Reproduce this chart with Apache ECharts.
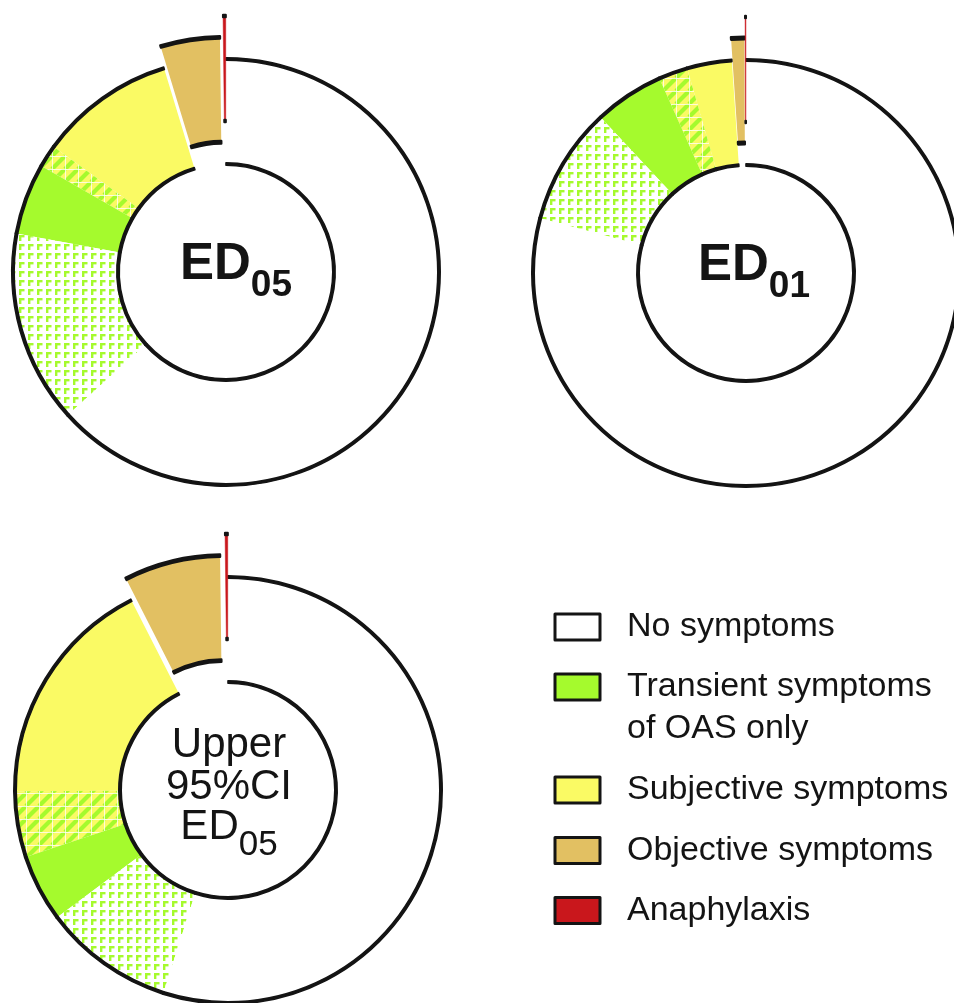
<!DOCTYPE html>
<html>
<head>
<meta charset="utf-8">
<title>Predicted symptom distribution at ED05, ED01 and upper 95%CI ED05</title>
<script src="https://cdn.jsdelivr.net/npm/echarts@6/dist/echarts.min.js"></script>
<style>
  html, body { margin: 0; padding: 0; background: #ffffff; }
  #chart { width: 954px; height: 1003px; }
</style>
</head>
<body>
<div id="chart"></div>
<script>
// Symptom categories, in order counterclockwise from 12 o'clock
const categories = [
  'Anaphylaxis',
  'Objective symptoms',
  'Subjective symptoms',
  'Subjective or transient',
  'Transient symptoms\nof OAS only',
  'Transient or none',
  'No symptoms'
];

// Share of patients (%) per category at each dose
const ed05Values        = [0.2, 4.5, 10.3, 1.7, 5.4, 14.6, 63.3];
const ed01Values        = [0.06, 1.0, 3.4, 2.2, 5.3, 8.9, 79.14];
const upperCiEd05Values = [0.2, 7.3, 17.6, 5.0, 5.1, 9.9, 54.9];

// Legend entries, top to bottom
const legendNames = [
  'No symptoms',
  'Transient symptoms\nof OAS only',
  'Subjective symptoms',
  'Objective symptoms',
  'Anaphylaxis'
];

const FONT = '"Liberation Sans", Arial, Helvetica, sans-serif';
const INK = '#141414';
const YELLOW = '#FAFA64';
const GREEN = '#A5FA2D';
const TAN = '#E2C062';
const RED = '#C9171C';
const NONE = 'rgba(0,0,0,0)';

// Diagonal green stripes on yellow with a faint white grid
function stripeTile() {
  const s = 13;
  const c = document.createElement('canvas');
  c.width = s; c.height = s;
  const g = c.getContext('2d');
  g.fillStyle = YELLOW; g.fillRect(0, 0, s, s);
  g.strokeStyle = GREEN; g.lineWidth = 4.2;
  for (const o of [-s, 0, s]) {
    g.beginPath(); g.moveTo(o, s); g.lineTo(o + s, 0); g.stroke();
  }
  g.strokeStyle = 'rgba(255,255,255,0.75)'; g.lineWidth = 1;
  g.beginPath();
  g.moveTo(0.5, 0); g.lineTo(0.5, s);
  g.moveTo(0, 0.5); g.lineTo(s, 0.5);
  g.stroke();
  return c;
}

// Small green corner marks on white
function cornerTile() {
  const s = 9;
  const c = document.createElement('canvas');
  c.width = s; c.height = s;
  const g = c.getContext('2d');
  g.fillStyle = '#ffffff'; g.fillRect(0, 0, s, s);
  g.fillStyle = GREEN;
  g.fillRect(1, 1, 2.4, 6);
  g.fillRect(1, 1, 5.5, 2.4);
  return c;
}

const stripes = { image: stripeTile(), repeat: 'repeat' };
const corners = { image: cornerTile(), repeat: 'repeat' };

const fillOf = {
  'Anaphylaxis': RED,
  'Objective symptoms': TAN,
  'Subjective symptoms': YELLOW,
  'Subjective or transient': stripes,
  'Transient symptoms\nof OAS only': GREEN,
  'Transient or none': corners,
  'No symptoms': '#ffffff'
};

const R_IN = 108;
const R_OUT = 213;
const OBJ_LIFT = 22;
const ANA_LIFT = 43;

function pie(center, radius, values, lift, liftedName, styleFor) {
  return {
    type: 'pie',
    center: center,
    radius: radius,
    startAngle: 90,
    clockwise: false,
    selectedMode: 'multiple',
    selectedOffset: lift,
    silent: true,
    animation: false,
    label: { show: false },
    labelLine: { show: false },
    emphasis: { disabled: true },
    data: categories.map((name, i) => ({
      name: name,
      value: values[i],
      selected: name === liftedName,
      itemStyle: styleFor(name)
    }))
  };
}

const ringStyle = (show, w) => show
  ? { color: INK, borderColor: INK, borderWidth: w, borderJoin: 'round' }
  : { color: NONE, borderWidth: 0 };

function donutSeries(values, center) {
  const ring = (r) => [r - 1.2, r + 1.2];
  return [
    // coloured ring; the objective slice is pulled outward
    pie(center, [R_IN, R_OUT], values, OBJ_LIFT, 'Objective symptoms', name => ({
      color: name === 'Anaphylaxis' ? NONE : fillOf[name], borderWidth: 0
    })),
    // outlines on the outer and inner edges
    pie(center, ring(R_OUT), values, OBJ_LIFT, 'Objective symptoms',
        name => ringStyle(name !== 'Anaphylaxis', name === 'Objective symptoms' ? 2.4 : 1.6)),
    pie(center, ring(R_IN), values, OBJ_LIFT, 'Objective symptoms',
        name => ringStyle(name !== 'Anaphylaxis', name === 'Objective symptoms' ? 2.4 : 1.6)),
    // anaphylaxis slice, pulled further out
    pie(center, [R_IN, R_OUT], values, ANA_LIFT, 'Anaphylaxis', name => (
      name === 'Anaphylaxis'
        ? { color: RED, borderColor: RED, borderWidth: 0.5 }
        : { color: NONE, borderWidth: 0 })),
    pie(center, ring(R_OUT), values, ANA_LIFT, 'Anaphylaxis',
        name => ringStyle(name === 'Anaphylaxis', 2.2)),
    pie(center, ring(R_IN), values, ANA_LIFT, 'Anaphylaxis',
        name => ringStyle(name === 'Anaphylaxis', 2.2))
  ];
}

const donuts = [
  { values: ed05Values, center: [226, 272] },
  { values: ed01Values, center: [746, 273] },
  { values: upperCiEd05Values, center: [228, 790] }
];

const series = [];
donuts.forEach(d => series.push(...donutSeries(d.values, d.center)));

// Centre captions (subscripts lowered with top padding)
const boldRich = {
  a: { fontSize: 51, fontWeight: 'bold', fontFamily: FONT, fill: INK, lineHeight: 50 },
  b: { fontSize: 37, fontWeight: 'bold', fontFamily: FONT, fill: INK, lineHeight: 37,
       padding: [43, 0, 0, 0] }
};
const plainRich = {
  u1: { fontSize: 42, fontFamily: FONT, fill: INK, lineHeight: 43 },
  u2: { fontSize: 42, fontFamily: FONT, fill: INK, lineHeight: 40 },
  s: { fontSize: 35, fontFamily: FONT, fill: INK, lineHeight: 35, padding: [36, 0, 0, 0] }
};

const graphic = [
  { type: 'text', x: donuts[0].center[0] + 10, y: donuts[0].center[1] - 7.5,
    style: { text: '{a|ED}{b|05}', rich: boldRich, align: 'center', verticalAlign: 'middle' } },
  { type: 'text', x: donuts[1].center[0] + 8, y: donuts[1].center[1] - 7.5,
    style: { text: '{a|ED}{b|01}', rich: boldRich, align: 'center', verticalAlign: 'middle' } },
  { type: 'text', x: donuts[2].center[0] + 1, y: donuts[2].center[1] - 66,
    style: { text: '{u1|Upper}\n{u2|95%CI}\n{u2|ED}{s|05}', rich: plainRich,
             align: 'center', verticalAlign: 'top' } }
];

// One legend block per entry; a two-line label gets a blank line above it so
// that its first line sits level with the swatch
const LEGEND_LH = 42;
const legendCenters = [627, 687, 790, 850.5, 910.5];
const legend = legendNames.map((name, i) => {
  const lines = name.split('\n').length;
  const blockH = (2 * lines - 1) * LEGEND_LH;
  return {
    data: [{ name: name, itemStyle: { color: fillOf[name] } }],
    orient: 'vertical',
    left: 553.5,
    top: legendCenters[i] - blockH / 2,
    padding: 0,
    icon: 'rect',
    itemWidth: 45,
    itemHeight: 26,
    selectedMode: false,
    itemStyle: { borderColor: INK, borderWidth: 3 },
    formatter: n => (lines > 1 ? '\u00a0\n'.repeat(lines - 1) + n : n),
    textStyle: {
      fontSize: 34,
      fontFamily: FONT,
      color: INK,
      lineHeight: LEGEND_LH,
      padding: [0, 0, 0, 22]
    }
  };
});

const chart = echarts.init(document.getElementById('chart'), null, { renderer: 'canvas' });
chart.setOption({
  backgroundColor: '#ffffff',
  animation: false,
  legend: legend,
  graphic: graphic,
  series: series
});
</script>
</body>
</html>
